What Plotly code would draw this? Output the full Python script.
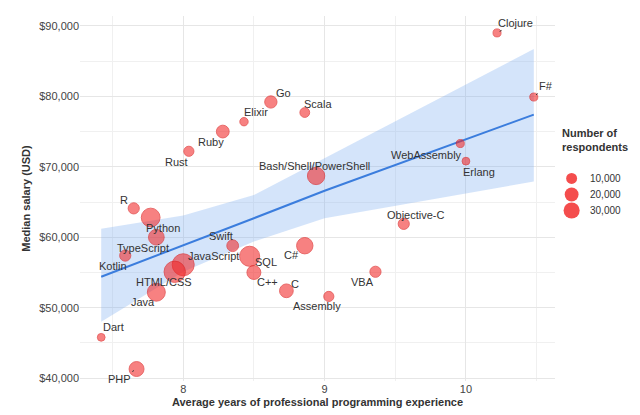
import plotly.graph_objects as go

# languages, average years of experience, median salary, respondents
languages = ["Clojure", "F#", "WebAssembly", "Erlang", "Objective-C", "VBA", "Assembly",
             "C", "C#", "SQL", "C++", "Swift", "JavaScript", "HTML/CSS", "Java", "Python",
             "TypeScript", "R", "Kotlin", "Dart", "PHP", "Bash/Shell/PowerShell", "Rust",
             "Ruby", "Elixir", "Go", "Scala"]
years = [10.22, 10.48, 9.96, 10.0, 9.56, 9.36, 9.03, 8.73, 8.86, 8.47, 8.50, 8.35, 8.0,
         7.94, 7.81, 7.77, 7.81, 7.65, 7.59, 7.42, 7.67, 8.94, 8.04, 8.28, 8.43, 8.62, 8.86]
salary = [89000, 79900, 73300, 70800, 61900, 55100, 51600, 52400, 58800, 57300, 55000,
          58800, 56100, 55100, 52200, 62800, 60000, 64100, 57400, 45800, 41300, 68700,
          72200, 75000, 76400, 79200, 77700]
respondents = [1200, 1200, 1200, 1000, 5000, 5000, 3500, 10000, 17000, 30000, 10500,
               6000, 38000, 35000, 22000, 25000, 15000, 5000, 5000, 1000, 13000, 20000,
               3500, 8000, 1500, 7000, 3000]

# label offsets in pixels (dx right, dy down) from each point
label_dx = [18, 12, -34, 13, 12, -13, -12, 9, -13, 16, 14, -12, 30, -11, -13, 12, -13,
            -10, -12, 12, -17, -2, -12, -12, 12, 13, 13]
label_dy = [-10, -11, 11, 11, -9, 10, 10, -7, 9, 6, 10, -10, -9, 10, 10, 10, 11, -8, 10,
            -10, 10, -10, 11, 10, -10, -9, -9]
leader = ["Clojure", "F#", "PHP"]

# linear fit and confidence band
fit_x = [7.42, 8.0, 8.5, 9.0, 10.48]
fit_y = [54400, 58800, 62700, 66600, 77400]
band_hi = [61200, 63100, 66000, 71200, 86700]
band_lo = [48000, 55100, 59400, 62700, 67900]

legend_values = [10000, 20000, 30000]
legend_labels = ["10,000", "20,000", "30,000"]

dot_color = "rgba(242,38,38,0.82)"


def diam(n):
    return 2 * (2.5 + 8.5 * (n / 38000) ** 0.5)


fig = go.Figure()

fig.add_trace(go.Scatter(
    x=fit_x + fit_x[::-1], y=band_hi + band_lo[::-1], mode="lines",
    fill="toself", fillcolor="rgba(120,170,240,0.32)",
    line=dict(width=0), hoverinfo="skip", showlegend=False
))
fig.add_trace(go.Scatter(
    x=fit_x, y=fit_y, mode="lines",
    line=dict(color="#3b7ddd", width=2), showlegend=False
))
fig.add_trace(go.Scatter(
    x=years, y=salary, mode="markers", text=languages,
    marker=dict(size=[diam(n) for n in respondents], color=dot_color,
                line=dict(color="rgba(220,30,30,0.9)", width=1)),
    showlegend=False
))

for name, xv, yv, dx, dy in zip(languages, years, salary, label_dx, label_dy):
    if name in leader:
        fig.add_annotation(x=xv, y=yv, text=name, showarrow=True, arrowhead=0,
                           arrowwidth=1, arrowcolor="#333", ax=dx, ay=dy, standoff=3,
                           font=dict(size=11, color="#333"))
    else:
        fig.add_annotation(x=xv, y=yv, text=name, showarrow=False, xshift=dx, yshift=-dy,
                           font=dict(size=11, color="#333"))

# size legend drawn by hand
fig.add_annotation(xref="paper", yref="paper", x=1.01, y=0.62, xanchor="left",
                   yanchor="bottom", showarrow=False, align="left",
                   text="<b>Number of<br>respondents</b>", font=dict(size=11, color="#333"))
for i, (v, lab) in enumerate(zip(legend_values, legend_labels)):
    yy = 0.555 - i * 0.044
    d = diam(v) * 0.8
    fig.add_shape(type="circle", xref="paper", yref="paper", xsizemode="pixel",
                  ysizemode="pixel", xanchor=1.035, yanchor=yy,
                  x0=-d / 2, x1=d / 2, y0=-d / 2, y1=d / 2,
                  fillcolor=dot_color, line=dict(width=0))
    fig.add_annotation(xref="paper", yref="paper", x=1.07, y=yy, xanchor="left",
                       showarrow=False, text=lab, font=dict(size=10, color="#333"))

fig.update_layout(
    width=640, height=415, margin=dict(l=72, r=93, t=8, b=42),
    paper_bgcolor="white", plot_bgcolor="white",
    font=dict(family="Liberation Sans, Arial", color="#444"),
    xaxis=dict(range=[7.27, 10.63], tickvals=[8, 9, 10], showgrid=True,
               gridcolor="#e6e6e6", zeroline=False, tickfont=dict(size=11),
               minor=dict(tickvals=[7.5, 8.5, 9.5, 10.5], showgrid=True, gridcolor="#f0f0f0"),
               title=dict(text="<b>Average years of professional programming experience</b>",
                          font=dict(size=11, color="#333"), standoff=4)),
    yaxis=dict(range=[39600, 91400], tickvals=[40000, 50000, 60000, 70000, 80000, 90000],
               tickformat="$,.0f", showgrid=True, gridcolor="#e6e6e6", zeroline=False,
               tickfont=dict(size=11),
               minor=dict(tickvals=[45000, 55000, 65000, 75000, 85000], showgrid=True,
                          gridcolor="#f0f0f0"),
               title=dict(text="<b>Median salary (USD)</b>", font=dict(size=11, color="#333"),
                          standoff=6)),
)

fig.write_html("out.html")
